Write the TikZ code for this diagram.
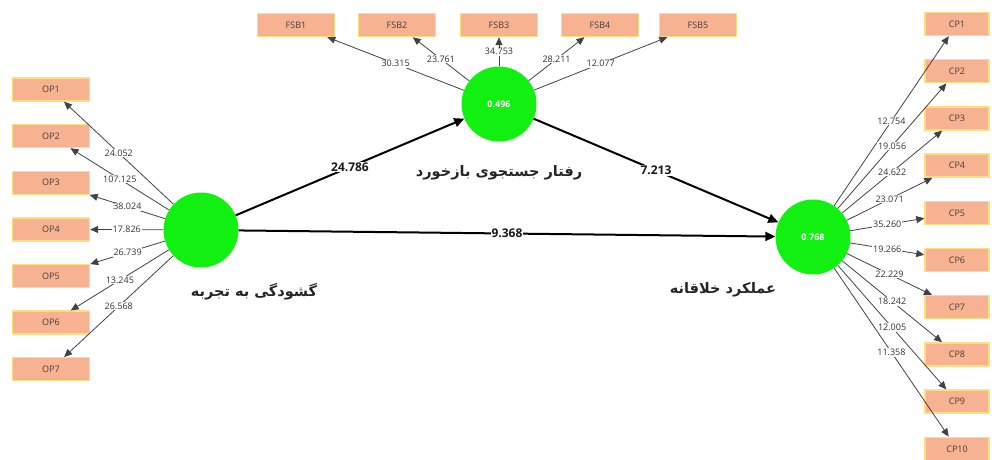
\documentclass[tikz,border=0pt]{standalone}
\usepackage{fontspec}
\setmainfont{Open Sans}
\newfontfamily\arabicfont[Script=Arabic]{DejaVu Sans}
\TeXXeTstate=1
\usetikzlibrary{arrows.meta}
\definecolor{boxfill}{RGB}{247,178,145}
\definecolor{boxline}{RGB}{255,222,130}
\definecolor{lvgreen}{RGB}{18,240,18}
\definecolor{loadgray}{RGB}{65,65,75}
\begin{document}
\begin{tikzpicture}[x=1pt,y=-1pt,
  indbox/.style={rectangle,fill=boxfill,draw=boxline,line width=1.4pt,minimum height=23pt,inner sep=0pt,font=\fontsize{9}{10}\selectfont,text=black!75},
  opbox/.style={indbox,minimum width=77pt},
  cpbox/.style={indbox,minimum width=64pt},
  lv/.style={circle,fill=lvgreen,draw=none,minimum size=75pt,inner sep=0pt,font=\fontsize{9}{10}\selectfont\bfseries,text=white},
  load/.style={draw=loadgray,line width=0.8pt,-{Triangle[length=8pt,width=7pt]}},
  path/.style={draw=black,line width=2pt,-{Triangle[length=10pt,width=9pt]}},
  lbl/.style={fill=white,inner sep=0.8pt,font=\fontsize{9}{10}\selectfont,text=black!80},
  plbl/.style={fill=white,inner sep=1pt,font=\fontsize{12}{13}\selectfont\bfseries,text=black!90},
  lvname/.style={font=\arabicfont\bfseries\fontsize{14.5}{16}\selectfont,text=black!85}]
\useasboundingbox (0,0) rectangle (992,459);
% latent variables
\node[lv] (L) at (201,230) {};
\node[lv] (M) at (499,104) {0.496};
\node[lv] (R) at (813,237) {0.768};
\node[lvname] (Ln) at (254,292) {\beginR گشودگی به تجربه\endR};
\node[lvname] (Mn) at (499,173) {\beginR رفتار جستجوی بازخورد\endR};
\node[lvname] (Rn) at (723,290) {\beginR عملکرد خلاقانه\endR};
% OP boxes
\node[opbox] (OP1) at (51,89.5) {OP1};
\node[opbox] (OP2) at (51,136) {OP2};
\node[opbox] (OP3) at (51,182.7) {OP3};
\node[opbox] (OP4) at (51,229.3) {OP4};
\node[opbox] (OP5) at (51,276) {OP5};
\node[opbox] (OP6) at (51,322.6) {OP6};
\node[opbox] (OP7) at (51,369.2) {OP7};
% FSB boxes
\node[opbox] (FSB1) at (296,25) {FSB1};
\node[opbox] (FSB2) at (397,25) {FSB2};
\node[opbox] (FSB3) at (499,25) {FSB3};
\node[opbox] (FSB4) at (600,25) {FSB4};
\node[opbox] (FSB5) at (698,25) {FSB5};
% CP boxes
\node[cpbox] (CP1) at (957,24) {CP1};
\node[cpbox] (CP2) at (957,71.2) {CP2};
\node[cpbox] (CP3) at (957,118.4) {CP3};
\node[cpbox] (CP4) at (957,165.6) {CP4};
\node[cpbox] (CP5) at (957,212.8) {CP5};
\node[cpbox] (CP6) at (957,260) {CP6};
\node[cpbox] (CP7) at (957,307.2) {CP7};
\node[cpbox] (CP8) at (957,354.4) {CP8};
\node[cpbox] (CP9) at (957,401.6) {CP9};
\node[cpbox] (CP10) at (957,448.8) {CP10};
% loadings OP
\draw[load] (L) -- node[lbl]{24.052} (OP1);
\draw[load] (L) -- node[lbl]{107.125} (OP2);
\draw[load] (L) -- node[lbl]{38.024} (OP3);
\draw[load] (L) -- node[lbl]{17.826} (OP4);
\draw[load] (L) -- node[lbl]{26.739} (OP5);
\draw[load] (L) -- node[lbl]{13.245} (OP6);
\draw[load] (L) -- node[lbl]{26.568} (OP7);
% loadings FSB
\draw[load] (M) -- node[lbl]{30.315} (FSB1);
\draw[load] (M) -- node[lbl]{23.761} (FSB2);
\draw[load] (M) -- node[lbl]{34.753} (FSB3);
\draw[load] (M) -- node[lbl]{28.211} (FSB4);
\draw[load] (M) -- node[lbl]{12.077} (FSB5);
% loadings CP
\draw[load] (R) -- node[lbl]{12.754} (CP1);
\draw[load] (R) -- node[lbl]{19.056} (CP2);
\draw[load] (R) -- node[lbl]{24.622} (CP3);
\draw[load] (R) -- node[lbl]{23.071} (CP4);
\draw[load] (R) -- node[lbl]{35.260} (CP5);
\draw[load] (R) -- node[lbl]{19.266} (CP6);
\draw[load] (R) -- node[lbl]{22.229} (CP7);
\draw[load] (R) -- node[lbl]{18.242} (CP8);
\draw[load] (R) -- node[lbl]{12.005} (CP9);
\draw[load] (R) -- node[lbl]{11.358} (CP10);
% structural paths
\draw[path] (L) -- node[plbl]{24.786} (M);
\draw[path] (M) -- node[plbl]{7.213} (R);
\draw[path] (L) -- node[plbl]{9.368} (R);
\end{tikzpicture}
\end{document}
